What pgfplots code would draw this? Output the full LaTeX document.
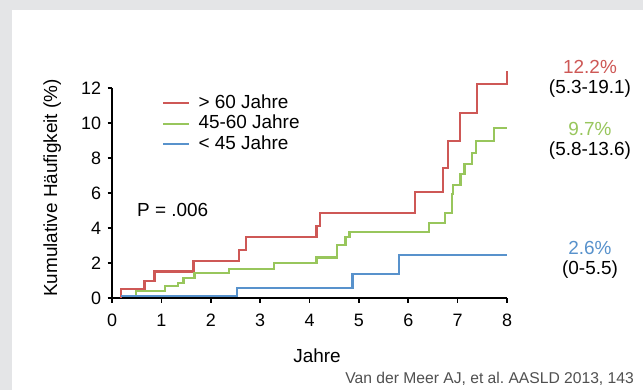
\documentclass[border=0pt]{standalone}
\usepackage{fontspec}
\setmainfont{Liberation Sans}
\usepackage{pgfplots}
\pgfplotsset{compat=1.18}
\frenchspacing

\definecolor{bandgray}{RGB}{228,229,231}
\definecolor{oldred}{RGB}{206,88,86}
\definecolor{midgreen}{RGB}{152,198,92}
\definecolor{youngblue}{RGB}{88,146,204}
\definecolor{citegray}{RGB}{80,80,80}

\begin{document}
\begin{tikzpicture}[x=1bp,y=1bp]
% slide background with grey frame at top and left
\fill[bandgray] (0,0) rectangle (643,390);
\fill[white] (12,0) rectangle (643,380);

\begin{axis}[
  at={(112bp,92bp)}, anchor=south west,
  scale only axis, width=395bp, height=210bp,
  xmin=0, xmax=8, ymin=0, ymax=12,
  clip=false,
  axis x line*=bottom, axis y line*=left,
  axis line style={-, line width=1.6bp, black},
  tick align=outside, major tick length=4.5bp,
  tick style={line width=1.6bp, black},
  xtick={0,1,...,8}, ytick={0,2,...,12},
  /pgf/number format/assume math mode=true,
  tick label style={font=\fontsize{18}{20}\selectfont},
  xticklabel style={yshift=-8bp},
  yticklabel style={xshift=-3bp},
  xlabel={Jahre},
  ylabel={Kumulative Häufigkeit (\%)},
  label style={font=\fontsize{19}{22}\selectfont},
  xlabel style={at={(axis description cs:0.519,-0.305)}, anchor=base},
  ylabel style={at={(axis description cs:-0.139,0.524)}, anchor=base},
  legend cell align=left,
  legend image code/.code={\draw[#1] (0bp,0bp) -- (26bp,0bp);},
  legend style={
    at={(axis description cs:0.127,0.971)}, anchor=north west,
    draw=none, fill=none, inner sep=0pt,
    font=\fontsize{19}{22}\selectfont,
    nodes={inner sep=0pt, text height=14bp, text depth=4bp},
    row sep=2.5bp,
    /tikz/every odd column/.append style={column sep=8bp},
  },
]
% > 60 years
\addplot[const plot, color=oldred, line width=2.2bp] coordinates {
  (0.19,0) (0.19,0.50) (0.66,0.99) (0.86,1.52) (1.65,2.10) (2.57,2.74)
  (2.71,3.47) (4.14,4.10) (4.21,4.88) (6.13,6.04) (6.70,7.41) (6.81,8.95)
  (7.04,10.57) (7.39,12.23) (8.00,12.95)
};
\addlegendentry{> 60 Jahre}
% 45-60 years
\addplot[const plot, color=midgreen, line width=2.2bp] coordinates {
  (0.24,0.13) (0.48,0.42) (1.07,0.69) (1.34,0.84) (1.45,1.14) (1.67,1.43)
  (2.37,1.66) (3.28,1.98) (4.14,2.32) (4.56,3.05) (4.73,3.50) (4.81,3.79)
  (6.42,4.29) (6.75,4.84) (6.89,5.94) (6.91,6.48) (7.06,7.09) (7.14,7.66)
  (7.29,8.27) (7.38,8.99) (7.74,9.71) (8.00,9.71)
};
\addlegendentry{45-60 Jahre}
% < 45 years
\addplot[const plot, color=youngblue, line width=2.2bp] coordinates {
  (0.19,0.10) (2.53,0.57) (4.87,1.37) (5.81,2.48) (8.00,2.48)
};
\addlegendentry{< 45 Jahre}
\end{axis}

% log-rank p value
\node[anchor=base west, font=\fontsize{19}{22}\selectfont, inner sep=0pt] at (137,174) {P = .006};

% cumulative incidence at 8 years with confidence interval
\begin{scope}[every node/.style={anchor=base, inner sep=0pt, font=\fontsize{19}{22}\selectfont}]
  \node[text=oldred]    at (590,317) {12.2\%};
  \node                 at (590,297) {(5.3-19.1)};
  \node[text=midgreen]  at (590,255) {9.7\%};
  \node                 at (590,235) {(5.8-13.6)};
  \node[text=youngblue] at (590,136) {2.6\%};
  \node                 at (590,116) {(0-5.5)};
\end{scope}

% source
\node[anchor=base east, inner sep=0pt, text=citegray, font=\fontsize{15.7}{18}\selectfont]
  at (634,7) {Van der Meer AJ, et al. AASLD 2013, 143};

\pgfresetboundingbox
\useasboundingbox (0,0) rectangle (643,390);
\end{tikzpicture}
\end{document}
